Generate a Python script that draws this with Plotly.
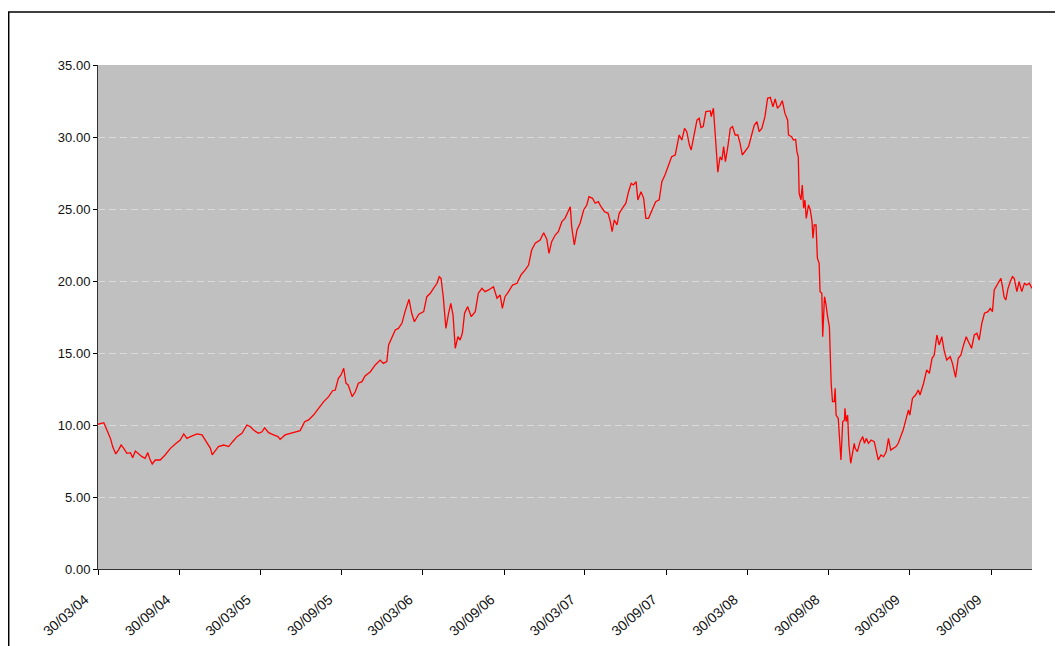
import pandas as pd
import plotly.graph_objects as go

day_offsets = [
    0, 13, 20, 28, 33, 40, 46, 52, 58, 65, 73, 78, 84, 91, 99, 106, 112, 116, 122, 129,
    140, 151, 163, 174, 185, 193, 200, 212, 223, 234, 245, 253, 257, 262, 271, 283, 294, 303, 313, 324,
    335, 343, 350, 361, 369, 375, 384, 395, 405, 410, 421, 433, 444, 455, 465, 474, 485, 496, 508, 519,
    528, 534, 541, 547, 553, 558, 563, 572, 579, 586, 594, 601, 613, 624, 635, 642, 650, 654, 661, 669,
    676, 684, 691, 700, 706, 712, 722, 733, 740, 748, 755, 763, 768, 772, 777, 783, 789, 794, 799, 804,
    810, 815, 820, 825, 832, 840, 849, 856, 864, 871, 879, 890, 898, 905, 910, 916, 924, 933, 943, 952,
    961, 969, 976, 984, 995, 1003, 1010, 1015, 1021, 1029, 1036, 1044, 1051, 1057, 1063, 1066, 1072, 1078, 1085, 1093,
    1100, 1105, 1113, 1119, 1126, 1132, 1140, 1148, 1153, 1157, 1162, 1168, 1173, 1180, 1188, 1194, 1200, 1205, 1211, 1215,
    1222, 1228, 1233, 1239, 1247, 1255, 1263, 1269, 1276, 1284, 1291, 1299, 1303, 1308, 1314, 1320, 1325, 1331, 1335, 1340,
    1348, 1353, 1357, 1362, 1368, 1378, 1380, 1385, 1389, 1391, 1395, 1400, 1404, 1408, 1412, 1418, 1423, 1428, 1434, 1440,
    1445, 1450, 1456, 1464, 1470, 1477, 1483, 1488, 1494, 1501, 1507, 1513, 1519, 1524, 1529, 1535, 1540, 1546, 1552, 1554,
    1561, 1565, 1570, 1573, 1576, 1578, 1582, 1585, 1588, 1591, 1594, 1599, 1603, 1607, 1609, 1612, 1616, 1619, 1623, 1625,
    1629, 1631, 1635, 1638, 1642, 1646, 1650, 1653, 1657, 1659, 1661, 1666, 1672, 1676, 1680, 1681, 1684, 1687, 1690, 1694,
    1698, 1702, 1704, 1709, 1715, 1721, 1725, 1729, 1734, 1740, 1747, 1751, 1756, 1762, 1768, 1774, 1779, 1784, 1790, 1796,
    1801, 1806, 1812, 1819, 1824, 1827, 1833, 1840, 1846, 1850, 1858, 1865, 1871, 1877, 1882, 1888, 1893, 1899, 1904, 1910,
    1918, 1923, 1930, 1936, 1942, 1948, 1954, 1959, 1966, 1972, 1978, 1983, 1989, 1995, 2003, 2008, 2013, 2017, 2023, 2028,
    2032, 2035, 2039, 2043, 2048, 2053, 2058, 2062, 2068, 2073, 2079, 2085, 2090, 2096, 2102,
]

prices = [
    10.05, 10.16, 9.65, 9.07, 8.50, 7.99, 8.26, 8.61, 8.38, 8.03, 8.08, 7.73, 8.19, 7.99, 7.80, 7.69, 8.08, 7.69, 7.29, 7.57,
    7.57, 7.92, 8.38, 8.68, 8.96, 9.38, 9.07, 9.24, 9.38, 9.31, 8.73, 8.38, 7.92, 8.15, 8.50, 8.61, 8.50, 8.84, 9.19, 9.42,
    10.00, 9.88, 9.65, 9.42, 9.53, 9.80, 9.47, 9.31, 9.19, 9.00, 9.31, 9.42, 9.53, 9.61, 10.23, 10.35, 10.69, 11.16, 11.62, 11.97,
    12.38, 12.43, 13.24, 13.47, 13.94, 12.90, 12.78, 11.97, 12.31, 12.90, 13.01, 13.40, 13.70, 14.17, 14.51, 14.28, 14.40, 15.56, 16.02, 16.60,
    16.71, 17.06, 17.87, 18.73, 17.76, 17.17, 17.70, 17.87, 18.91, 19.15, 19.49, 19.84, 20.30, 20.19, 18.91, 16.71, 17.76, 18.45, 17.64, 15.33,
    16.13, 15.90, 16.37, 17.76, 18.22, 17.52, 17.87, 19.15, 19.49, 19.26, 19.38, 19.60, 18.80, 19.03, 18.10, 18.91, 19.26, 19.72, 19.84, 20.42,
    20.76, 21.11, 22.15, 22.62, 22.85, 23.35, 22.90, 21.92, 22.73, 23.19, 23.42, 24.12, 24.35, 24.70, 25.16, 23.77, 22.50, 23.54, 24.01, 24.93,
    25.28, 25.85, 25.74, 25.40, 25.51, 25.16, 24.81, 24.70, 24.12, 23.42, 24.24, 23.89, 24.70, 25.05, 25.40, 26.20, 26.78, 26.67, 26.90, 25.63,
    26.20, 25.74, 24.35, 24.35, 24.93, 25.51, 25.63, 26.90, 27.36, 28.06, 28.63, 28.75, 29.33, 30.14, 29.79, 30.60, 30.37, 29.44, 29.10, 29.91,
    31.18, 31.30, 30.65, 30.72, 31.76, 31.81, 31.41, 32.00, 30.14, 29.22, 27.55, 28.63, 28.40, 29.33, 28.29, 29.44, 30.60, 30.72, 30.14, 30.14,
    29.56, 28.75, 28.98, 29.33, 30.02, 30.83, 31.06, 30.37, 30.60, 31.41, 32.69, 32.75, 32.10, 32.65, 32.00, 32.20, 32.52, 31.64, 31.18, 30.14,
    30.02, 29.79, 29.84, 28.98, 28.63, 26.09, 25.63, 26.67, 25.05, 25.63, 24.35, 25.28, 24.93, 24.12, 22.97, 23.89, 23.89, 21.58, 21.23, 19.26,
    19.15, 16.13, 18.91, 18.45, 17.52, 16.83, 12.90, 11.62, 11.62, 12.55, 10.69, 10.46, 7.57, 10.23, 10.35, 11.16, 10.23, 10.69, 8.61, 7.34,
    8.03, 8.73, 8.38, 8.15, 8.84, 9.19, 8.73, 9.07, 8.73, 8.96, 8.84, 8.15, 7.57, 7.92, 7.80, 8.15, 9.07, 8.26, 8.38, 8.50,
    8.73, 9.19, 9.65, 10.46, 11.04, 10.69, 11.85, 12.08, 12.43, 12.08, 12.90, 13.82, 13.59, 14.63, 14.86, 16.25, 15.56, 16.13, 15.21, 14.51,
    14.74, 14.28, 13.31, 14.63, 14.86, 15.56, 16.13, 15.78, 15.33, 16.25, 16.37, 15.90, 17.06, 17.76, 17.87, 18.10, 17.87, 19.38, 19.72, 19.95,
    20.19, 19.72, 18.91, 18.68, 19.49, 19.95, 20.30, 20.19, 19.26, 19.95, 19.26, 19.84, 19.72, 19.84, 19.49,
]

start_date = "2004-03-30"
end_date = "2009-12-31"
tick_dates = ["2004-03-30", "2004-09-30", "2005-03-30", "2005-09-30", "2006-03-30", "2006-09-30",
              "2007-03-30", "2007-09-30", "2008-03-30", "2008-09-30", "2009-03-30", "2009-09-30"]
tick_labels = ["30/03/04", "30/09/04", "30/03/05", "30/09/05", "30/03/06", "30/09/06",
               "30/03/07", "30/09/07", "30/03/08", "30/09/08", "30/03/09", "30/09/09"]
y_ticks = [0, 5, 10, 15, 20, 25, 30, 35]

dates = pd.Timestamp(start_date) + pd.to_timedelta(day_offsets, unit="D")

fig = go.Figure()
fig.add_trace(go.Scatter(
    x=dates, y=prices, mode="lines",
    line=dict(color="#FF0000", width=1.3),
    showlegend=False,
))

FONT = "Liberation Sans, Arial, sans-serif"

fig.update_layout(
    width=1063, height=646,
    margin=dict(l=90, r=39, t=57, b=85),
    paper_bgcolor="#FFFFFF",
    plot_bgcolor="#C0C0C0",
    font=dict(family=FONT, size=13, color="#000000"),
    xaxis=dict(
        range=[start_date, end_date],
        tickvals=tick_dates, ticktext=tick_labels,
        tickangle=-41,
        ticks="outside", ticklen=5, tickcolor="#000000", tickwidth=1,
        showline=True, linecolor="#333333", linewidth=1,
        showgrid=False, zeroline=False,
        ticklabelstandoff=11, ticklabelshift=-13,
        tickfont=dict(family=FONT, size=14, color="#111111"),
    ),
    yaxis=dict(
        range=[0, 35],
        tickvals=y_ticks, tickformat=".2f",
        ticks="outside", ticklen=4, tickcolor="#000000", tickwidth=1,
        showline=True, linecolor="#333333", linewidth=1,
        showgrid=True, gridcolor="#DADADA", gridwidth=1, griddash="7px,4px",
        zeroline=False,
        tickfont=dict(family=FONT, size=13, color="#111111"),
    ),
)

# Outer chart border (extends past the right/bottom of the image)
fig.add_shape(type="rect", xref="paper", yref="paper",
              x0=-0.0956, x1=1.2, y0=-0.3, y1=1.105,
              line=dict(color="#000000", width=1.5), fillcolor="rgba(0,0,0,0)", layer="above")

fig.write_html("out.html")
